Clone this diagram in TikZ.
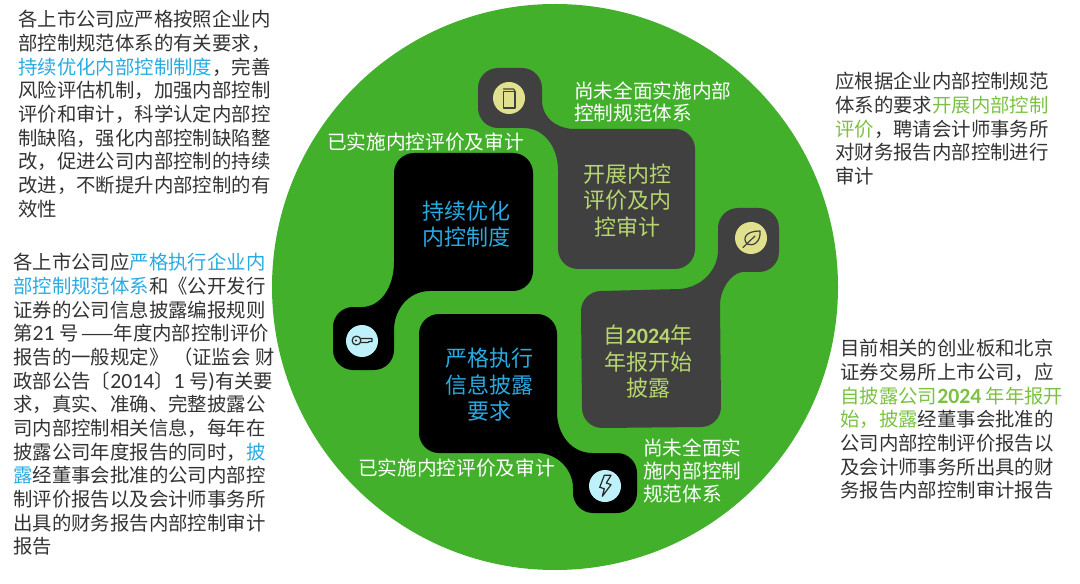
\documentclass[tikz,border=0pt]{standalone}
\usepackage{fontspec}
\setmainfont{Noto Sans CJK SC}
\newfontfamily\latfont{Carlito}
\newfontfamily\latbig[Scale=1.12]{Carlito}
\definecolor{gbg}{HTML}{43B02C}
\definecolor{dk}{HTML}{404040}
\definecolor{blu}{HTML}{29ABE2}
\definecolor{lime}{HTML}{B7D76E}
\definecolor{hgreen}{HTML}{7CC242}
\definecolor{bodyc}{HTML}{333333}
\definecolor{icy}{HTML}{E0E08E}
\definecolor{icb}{HTML}{BFF1FA}
\newcommand{\bl}[1]{\textcolor{blu}{#1}}
\newcommand{\gn}[1]{\textcolor{hgreen}{#1}}
\newcommand{\lt}[1]{{\latbig #1}}
\begin{document}
\begin{tikzpicture}[x=0.75pt,y=-0.75pt,
  bodytext/.style={anchor=north west,inner sep=0pt,align=left,text=bodyc,font=\fontsize{14.55}{17.75}\selectfont},
  boxtext/.style={inner sep=0pt,align=center,font=\fontsize{16.5}{19.9}\selectfont},
  note/.style={inner sep=0pt,align=left,text=white,font=\fontsize{14.75}{17.1}\selectfont},
  icondisc/.style={circle,minimum size=24pt,inner sep=0pt},
  iconline/.style={line width=0.9pt,line join=round,line cap=round}]
\useasboundingbox (0,0) rectangle (1080,584);
\fill[gbg] (555,287) circle [radius=283*0.75pt];
% black shapes
\fill[black] (414,153) -- (513,153) .. controls (524,153) and (533,162) .. (533,173) -- (533,271)
  .. controls (533,282) and (524,291) .. (513,291) -- (430,291)
  .. controls (408,291) and (394,310) .. (394,330) -- (394,350)
  .. controls (394,361) and (385,370) .. (374,370) -- (353,370)
  .. controls (342,370) and (333,361) .. (333,350) -- (333,327)
  .. controls (333,316) and (342,307) .. (353,307) -- (362,307)
  .. controls (380,307) and (394,288) .. (394,262) -- (394,173)
  .. controls (394,162) and (403,153) .. (414,153) -- cycle;
\fill[black] (439,314) -- (537,314) .. controls (548,314) and (557,323) .. (557,334) -- (557,412)
  .. controls (557,435) and (572,453) .. (592,453) -- (617,453)
  .. controls (628,453) and (637,462) .. (637,473) -- (637,493)
  .. controls (637,504) and (628,513) .. (617,513) -- (593,513)
  .. controls (582,513) and (573,504) .. (573,493) -- (573,488)
  .. controls (573,470) and (558,453) .. (537,453) -- (439,453)
  .. controls (428,453) and (419,444) .. (419,433) -- (419,334)
  .. controls (419,323) and (428,314) .. (439,314) -- cycle;
% dark shapes
\fill[dk] (498,68) -- (522,68) .. controls (533,68) and (542,77) .. (542,88) -- (542,100)
  .. controls (542,118) and (557,129) .. (575,129) -- (675,129)
  .. controls (686,129) and (695,138) .. (695,149) -- (695,249)
  .. controls (695,260) and (686,269) .. (675,269) -- (578,269)
  .. controls (567,269) and (558,260) .. (558,249) -- (558,170)
  .. controls (558,148) and (545,129) .. (525,128) -- (498,128)
  .. controls (487,128) and (478,119) .. (478,108) -- (478,88)
  .. controls (478,77) and (487,68) .. (498,68) -- cycle;
\fill[dk] (601,291) -- (680,289) .. controls (702,287) and (718,270) .. (718,250) -- (718,228)
  .. controls (718,217) and (727,208) .. (738,208) -- (759,208)
  .. controls (770,208) and (779,217) .. (779,228) -- (779,252)
  .. controls (779,263) and (770,272) .. (759,272) -- (742,272)
  .. controls (730,274) and (720,290) .. (720,305) -- (721,407)
  .. controls (721,418) and (712,427) .. (701,427) -- (602,428)
  .. controls (591,428) and (582,419) .. (582,408) -- (581,311)
  .. controls (581,300) and (590,291) .. (601,291) -- cycle;
% box labels
\node[boxtext,text=blu] (t1) at (466,224) {持续优化\\内控制度};
\node[boxtext,text=lime] (t2) at (627,200.5) {开展内控\\评价及内\\控审计};
\node[boxtext,text=blu] (t3) at (489,385) {严格执行\\信息披露\\要求};
\node[boxtext,text=lime] (t4) at (648,362) {自{\latfont\bfseries 2024}年\\年报开始\\披露};
% notes
\node[note,anchor=west] (n1) at (327,142) {已实施内控评价及审计};
\node[note,anchor=west] (n2) at (358,468) {已实施内控评价及审计};
\node[note,anchor=west] (n3) at (574,102) {尚未全面实施内部\\控制规范体系};
\node[note,anchor=west] (n4) at (643,471) {尚未全面实\\施内部控制\\规范体系};
% icon discs
\node[icondisc,fill=icy] (i1) at (509,98) {};
\node[icondisc,fill=icy] (i2) at (751,238) {};
\node[icondisc,fill=icb] (i3) at (362,341) {};
\node[icondisc,fill=icb] (i4) at (605,486) {};
% jar
\draw[iconline,dk] (503.5,89) -- (513.5,89) -- (515,91);
\draw[iconline,dk] (503.3,91.7) rectangle (515,108);
% leaf
\draw[iconline,dk] (747,244) .. controls (742,238) and (746,231) .. (760,231) .. controls (761,242) and (753,247) .. (747,244);
\draw[iconline,dk] (743,247.5) -- (755,236);
% key
\draw[iconline,black!85] (356.5,340.5) circle [radius=4.4];
\fill[black!85] (356,340.5) circle [radius=1.1];
\draw[iconline,black!85] (361,338.5) -- (372,338.5) -- (372,341.5) -- (369,341.5) -- (368,342.5) -- (361,342.5);
% bolt
\draw[iconline,black!85] (604.3,475.3) -- (599.7,487.3) -- (604.3,488.7) -- (602.3,496.3) -- (611,484.7) -- (606.3,483) -- (611,475.3) -- cycle;
% body texts
\node[bodytext] (b1) at (18,10) {各上市公司应严格按照企业内\\部控制规范体系的有关要求，\\\bl{持续优化内部控制制度}，完善\\风险评估机制，加强内部控制\\评价和审计，科学认定内部控\\制缺陷，强化内部控制缺陷整\\改，促进公司内部控制的持续\\改进，不断提升内部控制的有\\效性};
\node[bodytext] (b2) at (13,253) {各上市公司应\bl{严格执行企业内}\\\bl{部控制规范体系}和《公开发行\\证券的公司信息披露编报规则\\第\lt{21} 号\hspace{2pt}——年度内部控制评价\\报告的一般规定》\hspace{3.5pt}（证监会 财\\政部公告〔\lt{2014}〕\lt{1} 号\lt{)}有关要\\求，真实、准确、完整披露公\\司内部控制相关信息，每年在\\披露公司年度报告的同时，\bl{披}\\\bl{露}经董事会批准的公司内部控\\制评价报告以及会计师事务所\\出具的财务报告内部控制审计\\报告};
\node[bodytext] (b3) at (835,72) {应根据企业内部控制规范\\体系的要求\gn{开展内部控制}\\\gn{评价}，聘请会计师事务所\\对财务报告内部控制进行\\审计};
\node[bodytext] (b4) at (840,339) {目前相关的创业板和北京\\证券交易所上市公司，应\\\gn{自披露公司{\latbig\bfseries 2024} 年年报开}\\\gn{始，披露}经董事会批准的\\公司内部控制评价报告以\\及会计师事务所出具的财\\务报告内部控制审计报告};
\end{tikzpicture}
\end{document}
